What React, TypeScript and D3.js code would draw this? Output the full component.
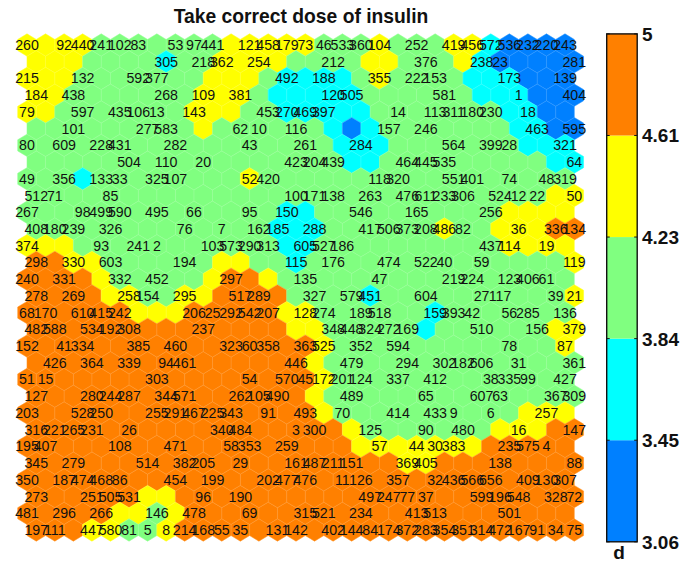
import React from "react";
import * as d3 from "d3";

const title = "Take correct dose of insulin";
const legendTicks = ["3.06", "3.45", "3.84", "4.23", "4.61", "5"];
const classColors = ["#0080FF", "#00FFFF", "#80FF80", "#FFFF00", "#FF8000"];
const legendName = "d";

// class of each map cell, one string per row, 1-5 from low to high
const cellRows = [
  "4444 3333333 44444 333 4 333 44 2 1111",
  "444 3333 2 33 4444 3333 44 333 4 2 11111",
  "444 3333333 444 3 2222 3 4 3333 222 111",
  "44 3333333 444 3 22222 333333 222 111",
  "44 3333333 444 33 22222 3333333 22 11",
  "333333333 4 333333 2 1 2 3333333 22 11",
  "33333333333333333 222 3333333 222",
  "33333333333333333 22 333333333 22",
  "333 2 33333333 4 33333333333333333",
  "3333333333333333333333333333 44",
  "33333333333333 22 3333333333 4444",
  "3333333333333 222 333333 4 33 444 55",
  "444 33333333333 22 3333333333 4444",
  "55 44 333333 44 33 2 33333333333333 4",
  "5555 4 33333 4 55 4 3333333333333333",
  "5555 44 33 44 5555 3333 2 3333333333 4",
  "555555 444 55555 44 333333 2 3333333",
  "55555555555555 44 33333 2 333333 44",
  "5555555555555555 4 333333333333 4",
  "555555555555555 4 33333333333333",
  "5555555555555555 4 3333333333333",
  "555555555555555 4 33333333333333",
  "5555555555555555 4 3333333333 444",
  "55555555555555555 4 3333333 444 55",
  "555555555555555555 4444444 55555",
  "55555555555555555555 44 55555555",
  "555555555555555555555555555555",
  "555555 44 5555555555555555555555",
  "55555 44 3 4 555555555555555555555",
  "555 44 33 4 5555555555555555555555",
];

// sample ids per row, as [column, id]
const labelRows: [number, string][][] = [
  [[0,"260"],[2,"92"],[3,"440"],[4,"241"],[5,"102"],[6,"83"],[8,"53"],[9,"97"],[10,"441"],[12,"121"],[13,"458"],[14,"179"],[15,"73"],[16,"46"],[17,"533"],[18,"360"],[19,"104"],[21,"252"],[23,"419"],[24,"456"],[25,"572"],[26,"536"],[27,"232"],[28,"220"],[29,"243"]],
  [[7,"305"],[9,"218"],[10,"362"],[12,"254"],[16,"212"],[21,"376"],[24,"238"],[25,"23"],[29,"281"]],
  [[0,"215"],[3,"132"],[6,"592"],[7,"377"],[14,"492"],[16,"188"],[19,"355"],[21,"222"],[22,"153"],[26,"173"],[29,"139"]],
  [[0,"184"],[2,"438"],[7,"268"],[9,"109"],[11,"381"],[16,"120"],[17,"505"],[22,"581"],[26,"1"],[29,"404"]],
  [[0,"79"],[3,"597"],[5,"435"],[6,"106"],[7,"13"],[9,"143"],[13,"453"],[14,"270"],[15,"469"],[16,"397"],[20,"14"],[22,"113"],[23,"311"],[24,"180"],[25,"230"],[27,"18"]],
  [[2,"101"],[6,"277"],[7,"583"],[11,"62"],[12,"10"],[14,"116"],[19,"157"],[21,"246"],[27,"463"],[29,"595"]],
  [[0,"80"],[2,"609"],[4,"228"],[5,"431"],[8,"282"],[12,"43"],[15,"261"],[18,"284"],[23,"564"],[25,"399"],[26,"28"],[29,"321"]],
  [[5,"504"],[7,"110"],[9,"20"],[14,"423"],[15,"204"],[16,"439"],[20,"464"],[21,"445"],[22,"535"],[29,"64"]],
  [[0,"49"],[2,"356"],[4,"133"],[5,"33"],[7,"325"],[8,"107"],[12,"52"],[13,"420"],[19,"118"],[20,"320"],[23,"551"],[24,"401"],[26,"74"],[28,"48"],[29,"319"]],
  [[0,"512"],[1,"71"],[4,"85"],[14,"100"],[15,"171"],[16,"138"],[18,"263"],[20,"476"],[21,"611"],[22,"233"],[23,"306"],[25,"524"],[26,"12"],[27,"22"],[29,"50"]],
  [[0,"267"],[3,"98"],[4,"499"],[5,"590"],[7,"495"],[9,"66"],[12,"95"],[14,"150"],[18,"546"],[21,"165"],[25,"256"]],
  [[0,"408"],[1,"180"],[2,"239"],[4,"326"],[8,"76"],[10,"7"],[12,"162"],[13,"185"],[15,"288"],[18,"417"],[19,"506"],[20,"373"],[21,"208"],[22,"486"],[23,"82"],[26,"36"],[28,"336"],[29,"134"]],
  [[0,"374"],[4,"93"],[6,"241"],[7,"2"],[10,"103"],[11,"573"],[12,"290"],[13,"313"],[15,"605"],[16,"527"],[17,"186"],[25,"437"],[26,"114"],[28,"19"]],
  [[0,"298"],[2,"330"],[4,"603"],[8,"194"],[14,"115"],[16,"176"],[19,"474"],[21,"522"],[22,"40"],[24,"59"],[29,"119"]],
  [[0,"240"],[2,"331"],[5,"332"],[7,"452"],[11,"297"],[15,"135"],[19,"47"],[23,"219"],[24,"224"],[26,"123"],[27,"406"],[28,"61"]],
  [[0,"278"],[2,"269"],[5,"258"],[6,"154"],[8,"295"],[11,"517"],[12,"289"],[15,"327"],[17,"579"],[18,"451"],[21,"604"],[24,"27"],[25,"117"],[28,"39"],[29,"21"]],
  [[0,"68"],[1,"170"],[3,"610"],[4,"415"],[5,"242"],[9,"206"],[10,"25"],[11,"292"],[12,"542"],[13,"207"],[15,"128"],[16,"274"],[18,"189"],[19,"518"],[22,"159"],[23,"393"],[24,"42"],[26,"56"],[27,"285"],[29,"136"]],
  [[0,"482"],[1,"588"],[3,"534"],[4,"192"],[5,"308"],[9,"237"],[16,"348"],[17,"448"],[18,"324"],[19,"272"],[20,"169"],[24,"510"],[27,"156"],[29,"379"]],
  [[0,"152"],[2,"41"],[3,"334"],[6,"385"],[8,"460"],[11,"323"],[12,"60"],[13,"358"],[15,"363"],[16,"525"],[18,"352"],[20,"594"],[26,"78"],[29,"87"]],
  [[1,"426"],[3,"364"],[5,"339"],[7,"94"],[8,"461"],[14,"446"],[17,"479"],[20,"294"],[22,"302"],[23,"182"],[24,"606"],[26,"31"],[29,"361"]],
  [[0,"51"],[1,"15"],[7,"303"],[12,"54"],[14,"570"],[15,"45"],[16,"172"],[17,"201"],[18,"124"],[20,"337"],[22,"412"],[25,"38"],[26,"335"],[27,"99"],[29,"427"]],
  [[0,"127"],[3,"280"],[4,"244"],[5,"287"],[7,"344"],[8,"571"],[11,"262"],[12,"105"],[13,"490"],[17,"489"],[21,"65"],[24,"607"],[25,"63"],[28,"367"],[29,"309"]],
  [[0,"203"],[3,"528"],[4,"250"],[7,"255"],[8,"291"],[9,"467"],[10,"225"],[11,"343"],[13,"91"],[15,"493"],[17,"70"],[20,"414"],[22,"433"],[23,"9"],[25,"6"],[28,"257"]],
  [[0,"316"],[1,"221"],[2,"265"],[3,"231"],[5,"26"],[10,"340"],[11,"484"],[14,"3"],[15,"300"],[18,"125"],[21,"90"],[23,"480"],[26,"16"],[29,"147"]],
  [[0,"195"],[1,"407"],[5,"108"],[8,"471"],[11,"58"],[12,"353"],[14,"259"],[19,"57"],[21,"44"],[22,"30"],[23,"383"],[26,"235"],[27,"575"],[28,"4"]],
  [[0,"345"],[2,"279"],[6,"514"],[8,"382"],[9,"205"],[11,"29"],[14,"161"],[15,"487"],[16,"211"],[17,"151"],[20,"369"],[21,"405"],[25,"138"],[29,"88"]],
  [[0,"350"],[2,"187"],[3,"474"],[4,"468"],[5,"86"],[8,"454"],[10,"199"],[13,"202"],[14,"477"],[15,"476"],[17,"11"],[18,"126"],[20,"357"],[22,"32"],[23,"436"],[24,"566"],[25,"656"],[27,"409"],[28,"130"],[29,"307"]],
  [[0,"273"],[3,"251"],[4,"505"],[5,"531"],[9,"96"],[11,"190"],[18,"497"],[19,"247"],[20,"77"],[21,"37"],[24,"599"],[25,"196"],[26,"548"],[28,"328"],[29,"72"]],
  [[0,"481"],[2,"296"],[4,"266"],[7,"146"],[9,"478"],[12,"69"],[15,"315"],[16,"521"],[18,"234"],[21,"413"],[22,"513"],[26,"501"]],
  [[0,"197"],[1,"111"],[3,"447"],[4,"580"],[5,"81"],[6,"5"],[7,"8"],[8,"214"],[9,"168"],[10,"55"],[11,"35"],[13,"131"],[14,"142"],[16,"402"],[17,"144"],[18,"84"],[19,"174"],[20,"372"],[21,"283"],[22,"354"],[23,"351"],[24,"314"],[25,"472"],[26,"167"],[27,"91"],[28,"34"],[29,"75"]],
];

const FONT = "'Liberation Sans', Arial, Helvetica, sans-serif";

export default function App() {
  const x = d3.scaleLinear().domain([0, 29]).range([27, 565]);
  const y = d3.scaleLinear().domain([0, 29]).range([45, 530]);
  const halfW = (x(1) - x(0)) / 2;
  const rad = ((y(1) - y(0)) / 3) * 2;
  const hexPath = d3.line()([
    [0, -rad], [halfW, -rad / 2], [halfW, rad / 2], [0, rad], [-halfW, rad / 2], [-halfW, -rad / 2],
  ]) + "Z";
  const cx = (r: number, c: number) => x(c) + (r % 2 ? halfW : 0);
  const color = d3.scaleOrdinal<string, string>().domain(["1", "2", "3", "4", "5"]).range(classColors);

  const barY = d3.scalePoint<string>().domain([...legendTicks].reverse()).range([33.9, 541.8]);
  const barL = 606.7;
  const barR = 637.2;

  return (
    <svg width={697} height={563} style={{ position: "absolute", left: 0, top: 0, display: "block" }}>
      <rect width={697} height={563} fill="#fff" />
      <text x={301} y={23} textAnchor="middle" fontFamily={FONT} fontWeight="bold" fontSize={19.3} fill="#111">{title}</text>
      {cellRows.map((row, r) =>
        row.replace(/ /g, "").split("").map((k, c) => (
          <path key={`${r}-${c}`} d={hexPath} transform={`translate(${cx(r, c)},${y(r)})`} fill={color(k)} stroke={color(k)} strokeWidth={0.5} />
        ))
      )}
      {cellRows.map((row, r) =>
        row.replace(/ /g, "").split("").map((k, c) => (
          <path key={`e${r}-${c}`} d={hexPath} transform={`translate(${cx(r, c)},${y(r)})`} fill="none" stroke="#fff" strokeOpacity={0.12} strokeWidth={0.6} />
        ))
      )}
      {labelRows.map((row, r) =>
        row.map(([c, label]) => (
          <text key={`${r}-${c}`} x={cx(r, c)} y={y(r) + 5} textAnchor="middle" fontFamily={FONT} fontSize={14.2} fill="#111">{label}</text>
        ))
      )}
      {classColors.map((col, i) => {
        const top = barY(legendTicks[i + 1]) as number;
        const low = barY(legendTicks[i]) as number;
        return <rect key={col} x={barL} y={top} width={barR - barL} height={low - top} fill={col} />;
      })}
      <rect x={barL} y={33.9} width={barR - barL} height={541.8 - 33.9} fill="none" stroke="#111" strokeWidth={1.4} />
      {legendTicks.map((t) => (
        <g key={t}>
          <line x1={barL} x2={barL + 3} y1={barY(t)} y2={barY(t)} stroke="#111" strokeWidth={1} />
          <line x1={barR - 3} x2={barR} y1={barY(t)} y2={barY(t)} stroke="#111" strokeWidth={1} />
          <text x={642} y={(barY(t) as number) + 7} fontFamily={FONT} fontWeight="bold" fontSize={19} fill="#111">{t}</text>
        </g>
      ))}
      <text x={619} y={558.5} textAnchor="middle" fontFamily={FONT} fontWeight="bold" fontSize={19} fill="#111">{legendName}</text>
    </svg>
  );
}
